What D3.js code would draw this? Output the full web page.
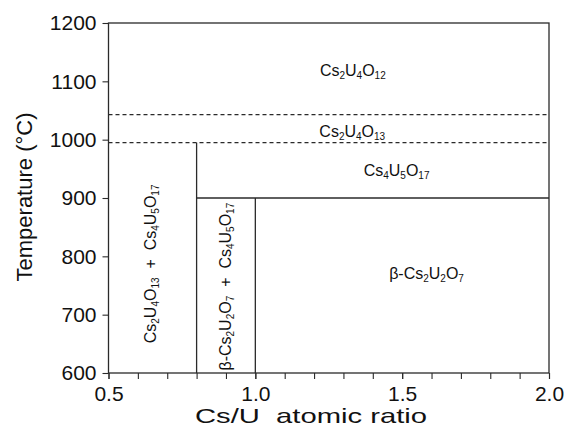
<!DOCTYPE html>
<html>
<head>
<meta charset="utf-8">
<script src="https://cdn.jsdelivr.net/npm/d3@7"></script>
<style>
  body { margin: 0; background: #fff; }
  svg text { font-family: "Liberation Sans", Arial, sans-serif; fill: #111; }
</style>
</head>
<body>
<div id="chart"></div>
<script>
// axis ranges and ticks
const xDomain = [0.5, 2.0];
const yDomain = [600, 1200];
const xMajorTicks = [0.5, 1.0, 1.5, 2.0];
const xMinorTicks = [0.5, 0.6, 0.7, 0.8, 0.9, 1.0, 1.1, 1.2, 1.3, 1.4, 1.5, 1.6, 1.7, 1.8, 1.9, 2.0];
const yTicks = [600, 700, 800, 900, 1000, 1100, 1200];

// phase boundaries (solid) : [x1, y1, x2, y2]
const solidLines = [
  [0.8, 600, 0.8, 995],
  [0.8, 900, 2.0, 900],
  [1.0, 600, 1.0, 900]
];
// transition temperatures (dashed)
const dashedLines = [
  [0.5, 1043, 2.0, 1043],
  [0.5, 995, 2.0, 995]
];

// phase labels: parts are [text, isSubscript]
const phaseLabels = [
  { x: 1.332, y: 1119, rot: 0, parts: [["Cs", 0], ["2", 1], ["U", 0], ["4", 1], ["O", 0], ["12", 1]] },
  { x: 1.33, y: 1015, rot: 0, parts: [["Cs", 0], ["2", 1], ["U", 0], ["4", 1], ["O", 0], ["13", 1]] },
  { x: 1.481, y: 948, rot: 0, parts: [["Cs", 0], ["4", 1], ["U", 0], ["5", 1], ["O", 0], ["17", 1]] },
  { x: 1.583, y: 771, rot: 0, parts: [["β-Cs", 0], ["2", 1], ["U", 0], ["2", 1], ["O", 0], ["7", 1]] },
  { x: 0.641, y: 787, rot: -90, parts: [["Cs", 0], ["2", 1], ["U", 0], ["4", 1], ["O", 0], ["13", 1], ["\u00a0\u00a0+\u00a0\u00a0", 0], ["Cs", 0], ["4", 1], ["U", 0], ["5", 1], ["O", 0], ["17", 1]] },
  { x: 0.896, y: 748, rot: -90, parts: [["β-Cs", 0], ["2", 1], ["U", 0], ["2", 1], ["O", 0], ["7", 1], ["\u00a0\u00a0+\u00a0\u00a0", 0], ["Cs", 0], ["4", 1], ["U", 0], ["5", 1], ["O", 0], ["17", 1]] }
];

const xTitle = "Cs/U\u00a0\u00a0atomic ratio";
const yTitle = "Temperature (°C)";

const width = 570, height = 435;
const margin = { left: 108.5, right: 21, top: 23, bottom: 62 };

const svg = d3.select("#chart").append("svg")
  .attr("width", width)
  .attr("height", height);

const x = d3.scaleLinear().domain(xDomain).range([margin.left, width - margin.right]);
const y = d3.scaleLinear().domain(yDomain).range([height - margin.bottom, margin.top]);

const lineColor = "#2a2a2a";

// x axis: minor ticks, then labelled majors
svg.append("g")
  .attr("transform", "translate(0," + y(600) + ")")
  .call(d3.axisBottom(x).tickValues(xMinorTicks).tickSize(6).tickFormat(""))
  .call(g => g.select(".domain").remove())
  .call(g => g.selectAll("line").attr("stroke", lineColor).attr("stroke-width", 1.1));

svg.append("g")
  .attr("transform", "translate(0," + y(600) + ")")
  .call(d3.axisBottom(x).tickValues(xMajorTicks).tickSize(6).tickPadding(7).tickFormat(d3.format(".1f")))
  .call(g => g.select(".domain").remove())
  .call(g => g.selectAll("line").attr("stroke", lineColor).attr("stroke-width", 1.1))
  .call(g => g.selectAll("text").attr("font-size", 21).attr("font-family", "Liberation Sans, Arial, sans-serif").attr("fill", "#111"));

svg.append("g")
  .attr("transform", "translate(" + x(0.5) + ",0)")
  .call(d3.axisLeft(y).tickValues(yTicks).tickSize(6).tickPadding(6).tickFormat(d3.format("d")))
  .call(g => g.select(".domain").remove())
  .call(g => g.selectAll("line").attr("stroke", lineColor).attr("stroke-width", 1.1))
  .call(g => g.selectAll("text").attr("font-size", 21).attr("font-family", "Liberation Sans, Arial, sans-serif").attr("fill", "#111"));

// frame
svg.append("rect")
  .attr("x", x(0.5))
  .attr("y", y(1200))
  .attr("width", x(2.0) - x(0.5))
  .attr("height", y(600) - y(1200))
  .attr("fill", "none")
  .attr("stroke", lineColor)
  .attr("stroke-width", 1.3);

// boundaries
svg.selectAll(".solid")
  .data(solidLines)
  .enter().append("line")
  .attr("class", "solid")
  .attr("x1", d => x(d[0])).attr("y1", d => y(d[1]))
  .attr("x2", d => x(d[2])).attr("y2", d => y(d[3]))
  .attr("stroke", lineColor)
  .attr("stroke-width", 1.3);

svg.selectAll(".dashed")
  .data(dashedLines)
  .enter().append("line")
  .attr("class", "dashed")
  .attr("x1", d => x(d[0])).attr("y1", d => y(d[1]))
  .attr("x2", d => x(d[2])).attr("y2", d => y(d[3]))
  .attr("stroke", lineColor)
  .attr("stroke-width", 1.1)
  .attr("stroke-dasharray", "4,3");

// phase labels with subscripts
phaseLabels.forEach(function (lab) {
  let t = svg.append("text")
    .attr("text-anchor", "middle")
    .attr("dominant-baseline", "central")
    .attr("font-size", 16)
    .attr("transform", "translate(" + x(lab.x) + "," + y(lab.y) + ") rotate(" + lab.rot + ")");
  let shifted = false;
  lab.parts.forEach(function (p) {
    let ts = t.append("tspan").text(p[0]);
    if (p[1]) {
      ts.attr("font-size", 10).attr("dy", shifted ? 0 : 5);
      shifted = true;
    } else {
      ts.attr("dy", shifted ? -5 : 0);
      shifted = false;
    }
  });
});

// axis titles
svg.append("text")
  .attr("x", 311)
  .attr("y", 423)
  .attr("text-anchor", "middle")
  .attr("font-size", 21)
  .attr("textLength", 232)
  .attr("lengthAdjust", "spacingAndGlyphs")
  .text(xTitle);

svg.append("text")
  .attr("transform", "translate(32,197) rotate(-90)")
  .attr("text-anchor", "middle")
  .attr("font-size", 22)
  .attr("textLength", 169)
  .attr("lengthAdjust", "spacingAndGlyphs")
  .text(yTitle);
</script>
</body>
</html>
